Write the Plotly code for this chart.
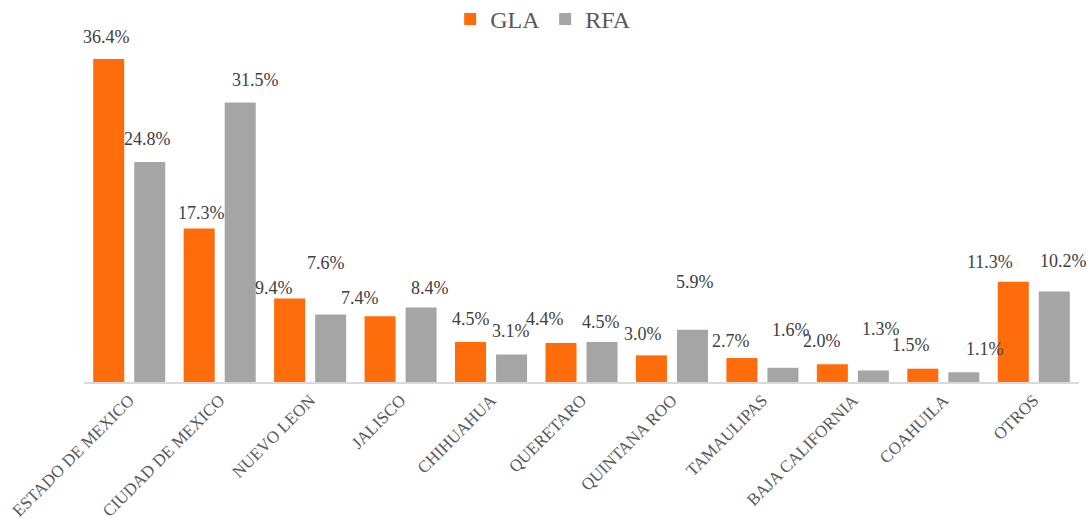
import plotly.graph_objects as go

categories = ["ESTADO DE MEXICO", "CIUDAD DE MEXICO", "NUEVO LEON", "JALISCO", "CHIHUAHUA",
              "QUERETARO", "QUINTANA ROO", "TAMAULIPAS", "BAJA CALIFORNIA", "COAHUILA", "OTROS"]
gla = [36.4, 17.3, 9.4, 7.4, 4.5, 4.4, 3.0, 2.7, 2.0, 1.5, 11.3]
rfa = [24.8, 31.5, 7.6, 8.4, 3.1, 4.5, 5.9, 1.6, 1.3, 1.1, 10.2]

# label nudges (pixels) relative to each bar's top centre, mimicking the original
gla_dx = [-2, 2, -16, -20, 0, -16, -8, -11, -10, -12, -23]
gla_dy = [-22, -15, -11, -18, -23, -24, -21, -17, -23, -24, -20]
rfa_dx = [-2, 15, -5, 9, -1, -1, 3, 8, 8, 21, 9]
rfa_dy = [-23, -22, -52, -19, -23, -20, -48, -38, -41, -23, -30]

ORANGE = "#FF6C0C"
GRAY = "#A5A5A5"
FONT = "Liberation Serif"
TXT = "#404040"

fig = go.Figure()
fig.add_trace(go.Bar(name="GLA", x=categories, y=gla, marker=dict(color=ORANGE, line=dict(width=0))))
fig.add_trace(go.Bar(name="RFA", x=categories, y=rfa, marker=dict(color=GRAY, line=dict(width=0))))

half = 20.5
annotations = []
for series, vals, dxs, dys, base in (("GLA", gla, gla_dx, gla_dy, -half), ("RFA", rfa, rfa_dx, rfa_dy, half)):
    for c, v, dx, dy in zip(categories, vals, dxs, dys):
        annotations.append(dict(
            x=c, y=v, xref="x", yref="y", text=f"{v:.1f}%", showarrow=False,
            xanchor="center", yanchor="middle", xshift=base + dx, yshift=-dy,
            font=dict(family=FONT, size=18, color=TXT)))

fig.update_layout(
    width=1089, height=519,
    margin=dict(l=84, r=10, t=10, b=137, autoexpand=False),
    paper_bgcolor="white", plot_bgcolor="white",
    barmode="group", bargap=0.093, bargroupgap=0.244,
    font=dict(family=FONT, color="#595959"),
    legend=dict(orientation="h", x=0.368, xanchor="left", y=0.975, yanchor="middle",
                font=dict(family=FONT, size=24, color="#595959"), bgcolor="rgba(0,0,0,0)",
                traceorder="normal"),
    annotations=annotations,
    xaxis=dict(showline=True, linecolor="#D9D9D9", linewidth=1.5, ticks="", tickangle=-45,
               automargin=False, range=[-0.5, len(categories) - 0.5],
               tickfont=dict(family=FONT, size=17, color="#595959"), showgrid=False),
    yaxis=dict(range=[0, 41.92], visible=False, showgrid=False, zeroline=False, automargin=False),
)
fig.write_html("out.html", config={"displayModeBar": False},
               post_script="document.body.style.margin='0';document.body.style.overflow='hidden';")
